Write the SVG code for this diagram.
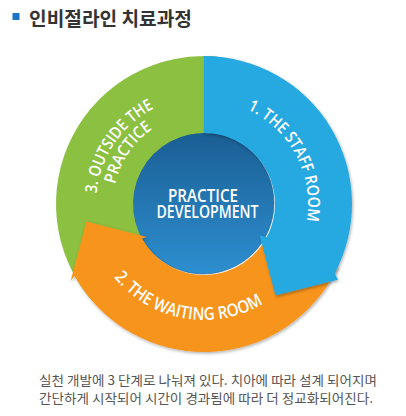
<svg xmlns="http://www.w3.org/2000/svg" width="406" height="416" viewBox="0 0 406 416">
<defs>
<linearGradient id="gIn" x1="0" y1="0" x2="0" y2="1">
<stop offset="0" stop-color="#1a5e93"/>
<stop offset="1" stop-color="#2d8fd0"/>
</linearGradient>
<filter id="sh" x="-20%" y="-20%" width="140%" height="140%">
<feDropShadow dx="1" dy="1.5" stdDeviation="1.5" flood-color="#000" flood-opacity="0.3"/>
</filter>
<path id="pStaff" d="M185.94,101.58 A104,104 0 0 1 278.81,276.24"/>
<path id="pWait" d="M89.13,220.14 A116,116 0 0 0 306.42,258.46"/>
<path id="pOut1" d="M121.27,273.42 A108,108 0 0 1 237.37,101.29"/>
<path id="pOut2" d="M134.29,262.49 A91,91 0 0 1 232.12,117.45"/>
</defs>
<style>
.band{font-family:"Open Sans","Liberation Sans",sans-serif;font-weight:600;fill:#fff;}
.ctr{font-family:"Open Sans","Liberation Sans",sans-serif;font-weight:600;fill:#fff;font-size:18px;text-anchor:middle;}
.kr{font-family:"Noto Sans CJK KR","Noto Sans",sans-serif;}
</style>
<rect width="406" height="416" fill="#fff"/>
<g id="title">
<rect x="12.5" y="13" width="7" height="7" fill="#1a75c6"/>
<text class="kr" x="29" y="26" font-size="19.5" font-weight="700" fill="#333" textLength="163" lengthAdjust="spacingAndGlyphs">인비절라인 치료과정</text>
</g>
<g id="center-disk">
<circle cx="203" cy="203" r="71" fill="url(#gIn)" stroke="#1a5a8a" stroke-opacity="0.5"/>
</g>
<g id="connectors">
<g id="seg-outside">
<path d="M90.63,299.13 A148,148 0 0 1 216.9,56.56 L210.19,133.27 A71,71 0 0 0 149.61,249.64 Z" fill="#8bc041"/>
</g>
<g id="seg-waiting" filter="url(#sh)">
<path d="M338.13,266.55 A148,148 0 0 1 74.56,275.75 L70.63,281 L86.31,221.59 L146.84,237 L141.9,238.42 A71,71 0 0 0 268.35,234 Z" fill="#f7941d"/>
</g>
<g id="seg-staff" filter="url(#sh)">
<path d="M204,56 A148,148 0 0 1 334.67,273.49 L338.04,279.83 L275.42,295.41 L259.71,235.51 L266.69,237.33 A71,71 0 0 0 204,133 Z" fill="#27a9e1"/>
</g>
</g>
<g id="center">
<text class="ctr" x="203" y="201.7" textLength="70" lengthAdjust="spacingAndGlyphs">PRACTICE</text>
<text class="ctr" x="207.5" y="218.3" textLength="102" lengthAdjust="spacingAndGlyphs">DEVELOPMENT</text>
</g>
<g id="labels">
<text class="band" font-size="16.5"><textPath href="#pStaff" startOffset="50%" text-anchor="middle" textLength="136" lengthAdjust="spacingAndGlyphs">1. THE STAFF ROOM</textPath></text>
<text class="band" font-size="17.5"><textPath href="#pWait" startOffset="50%" text-anchor="middle" textLength="165" lengthAdjust="spacingAndGlyphs">2. THE WAITING ROOM</textPath></text>
<text class="band" font-size="16.5"><textPath href="#pOut1" startOffset="50%" text-anchor="middle" textLength="107" lengthAdjust="spacingAndGlyphs">3. OUTSIDE THE</textPath></text>
<text class="band" font-size="16.5"><textPath href="#pOut2" startOffset="50%" text-anchor="middle" textLength="68" lengthAdjust="spacingAndGlyphs">PRACTICE</textPath></text>
</g>
<g id="caption" class="kr" font-size="13" fill="#555">
<text x="39" y="385" textLength="338" lengthAdjust="spacingAndGlyphs">실천 개발에 3 단계로 나눠져 있다. 치아에 따라 설계 되어지며</text>
<text x="39" y="403" textLength="334" lengthAdjust="spacingAndGlyphs">간단하게 시작되어 시간이 경과됨에 따라 더 정교화되어진다.</text>
</g>
</svg>
